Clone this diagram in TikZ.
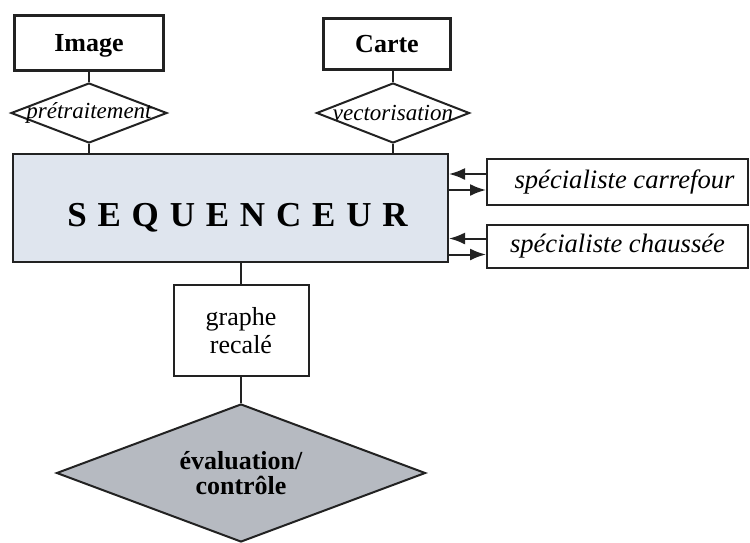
\documentclass[tikz,border=0pt]{standalone}
\usepackage{fontspec}
\setmainfont{Liberation Serif}
\usepackage{tikz}
\usetikzlibrary{arrows.meta, positioning, shapes.geometric}
\definecolor{seqfill}{HTML}{DFE5EE}
\definecolor{evalfill}{HTML}{B6BAC1}
\definecolor{ink}{HTML}{222222}
\tikzstyle{block} = [draw=ink, rectangle, line width=1pt, inner sep=2pt]
\tikzstyle{source} = [block, line width=1.6pt, text height=8.6pt, text depth=0pt, font=\fontsize{13}{15}\selectfont\bfseries]
\tikzstyle{step box} = [draw=ink, diamond, line width=1pt, inner sep=0pt, font=\fontsize{11.5}{13}\selectfont\itshape]
\tikzstyle{expert} = [block, minimum width=130.5pt, font=\fontsize{13.3}{15}\selectfont\itshape]
\tikzstyle{link} = [draw=ink, line width=1pt]
\tikzstyle{flow} = [link, -{Latex[length=8pt, width=6pt]}]

\begin{document}
\begin{tikzpicture}[x=1pt, y=1pt, node distance=6pt]
    \useasboundingbox (0,0) rectangle (375,-271);

    \node (seq) [block, fill=seqfill, minimum width=217.5pt, minimum height=54pt,
        font=\fontsize{17.5}{20}\selectfont\bfseries] at (115.25,-104)
        {\spaceskip=5.4pt\relax\hspace*{7pt}\raisebox{-9pt}[0pt][0pt]{S E Q U E N C E U R}};
    \node (pre) [step box, minimum width=78pt, minimum height=30pt] at (44.5,-56.5)
        {\makebox[0pt]{prétraitement}};
    \node (vec) [step box, minimum width=76.5pt, minimum height=30pt] at (196.5,-56.5)
        {\makebox[0pt]{vectorisation}};
    \node (image) [source, minimum width=74.5pt, minimum height=27.5pt, above=5pt of pre] {Image};
    \node (carte) [source, minimum width=63.5pt, minimum height=25.5pt, above=5.5pt of vec,
        xshift=-3pt] {Carte};
    \node (graphe) [block, minimum width=67.5pt, minimum height=45.5pt, align=center,
        font=\fontsize{13}{14}\selectfont] at (120.5,-165.25) {graphe\\recalé};
    \node (eval) [draw=ink, diamond, aspect=2.67, line width=1pt, fill=evalfill, minimum width=184.5pt,
        minimum height=69pt, inner sep=0pt, align=center, font=\fontsize{13}{12.5}\selectfont\bfseries,
        below=13pt of graphe] {évaluation/\\contrôle};
    \node (carrefour) [expert, minimum height=23pt] at (308.75,-91) {\hspace*{7pt}spécialiste carrefour};
    \node (chaussee) [expert, minimum height=21.5pt, below=9pt of carrefour] {spécialiste chaussée};

    % Links.
    \path [link] (image) -- (pre);
    \path [link] (pre) -- (pre |- seq.north);
    \path [link] (carte.south -| vec) -- (vec);
    \path [link] (vec) -- (vec |- seq.north);
    \path [link] (graphe.north) -- (graphe.north |- seq.south);
    \path [link] (graphe) -- (eval);

    \foreach \s in {carrefour, chaussee} {%
        \draw [flow] ([yshift=4pt]\s.west) -- ([yshift=4pt]\s.west -| seq.east);
        \draw [flow] ([yshift=-4pt]\s.west -| seq.east) -- ([yshift=-4pt]\s.west);
    }
\end{tikzpicture}
\end{document}
